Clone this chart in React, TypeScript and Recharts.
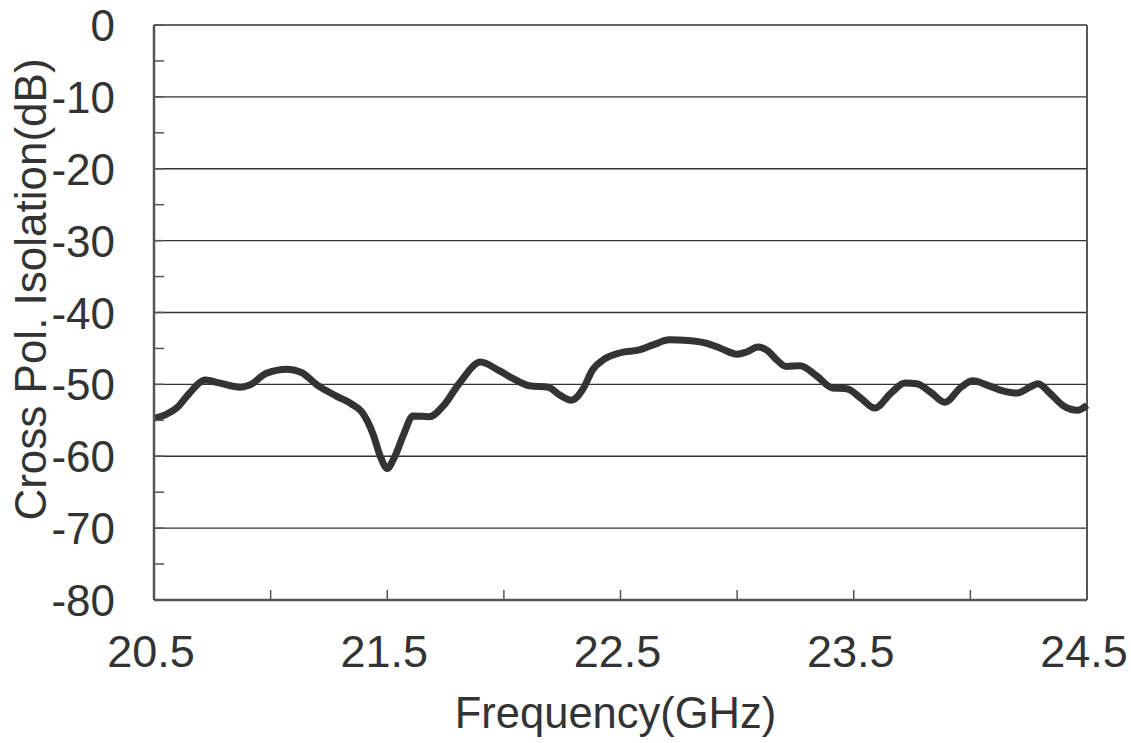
import { LineChart, Line, XAxis, YAxis, CartesianGrid, ReferenceLine, Label } from "recharts";

const frequencies = [
  20.5, 20.55, 20.6, 20.65, 20.72, 20.78, 20.87, 20.91, 20.98, 21.07, 21.13, 21.2, 21.28, 21.35, 21.39,
  21.44, 21.47, 21.5, 21.53, 21.57, 21.61, 21.68, 21.74, 21.81, 21.9, 21.98, 22.04, 22.11, 22.19, 22.24,
  22.29, 22.34, 22.38, 22.43, 22.5, 22.58, 22.64, 22.71, 22.79, 22.87, 22.93, 23.0, 23.04, 23.09, 23.13,
  23.17, 23.21, 23.27, 23.34, 23.41, 23.47, 23.53, 23.59, 23.66, 23.72, 23.77, 23.83, 23.89, 23.96, 24.01,
  24.08, 24.14, 24.2, 24.26, 24.29, 24.34, 24.4, 24.46, 24.5,
];

const isolation = [
  -54.7, -54.2, -53.2, -51.3, -49.4, -49.8, -50.4, -50.1, -48.5, -47.9, -48.3, -50.1, -51.6, -52.8, -53.8,
  -57.0, -60.0, -61.7, -60.2, -57.0, -54.4, -54.5, -53.0, -49.8, -46.9, -48.1, -49.2, -50.2, -50.4, -51.5,
  -52.2, -50.6, -48.0, -46.5, -45.6, -45.2, -44.5, -43.8, -43.9, -44.3, -45.0, -45.8, -45.5, -44.8, -45.3,
  -46.6, -47.5, -47.4, -48.8, -50.5, -50.6, -51.9, -53.3, -51.2, -49.8, -49.9, -51.1, -52.5, -50.4, -49.5,
  -50.2, -50.9, -51.2, -50.3, -49.9, -51.2, -53.0, -53.6, -52.9,
];

const xTicks = [20.5, 21, 21.5, 22, 22.5, 23, 23.5, 24, 24.5];
const xLabelTicks = [20.5, 21.5, 22.5, 23.5, 24.5];
const yTicks = [-80, -75, -70, -65, -60, -55, -50, -45, -40, -35, -30, -25, -20, -15, -10, -5, 0];
const yLabelTicks = [-80, -70, -60, -50, -40, -30, -20, -10, 0];

const data = frequencies.map((f, i) => ({ f, v: isolation[i] }));

const FONT = "'Liberation Sans', Arial, sans-serif";

const XTick = (props: any) => {
  const { x, y, payload } = props;
  const v = payload.value;
  return (
    <g>
      <line x1={x} x2={x} y1={y} y2={y - 10} stroke="#555" strokeWidth={1.5} />
      {xLabelTicks.includes(v) && (
        <text x={x - 3} y={y + 67} textAnchor="middle" fontFamily={FONT} fontSize={45} fill="#333">
          {v.toFixed(1)}
        </text>
      )}
    </g>
  );
};

const YTick = (props: any) => {
  const { x, y, payload } = props;
  const v = payload.value;
  return (
    <g>
      <line x1={x} x2={x + 10} y1={y} y2={y} stroke="#555" strokeWidth={1.5} />
      {yLabelTicks.includes(v) && (
        <text x={x - 39} y={y + 16} textAnchor="end" fontFamily={FONT} fontSize={44} fill="#333">
          {v}
        </text>
      )}
    </g>
  );
};

export default function App() {
  return (
    <div style={{ width: 1131, height: 743, background: "#fff" }}>
      <style>{"body{margin:0}"}</style>
      <LineChart width={1131} height={743} data={data} margin={{ top: 25, right: 44, left: 0, bottom: 0 }}>
        <CartesianGrid vertical={false} horizontalValues={yLabelTicks} stroke="#333" strokeWidth={1.3} />
        <XAxis
          type="number"
          dataKey="f"
          domain={[20.5, 24.5]}
          ticks={xTicks}
          interval={0}
          height={143}
          tickSize={0}
          tickMargin={0}
          tick={<XTick />}
          axisLine={{ stroke: "#555", strokeWidth: 2.5 }}
          tickLine={false}
        >
          <Label
            content={(p: any) => {
              const vb = p.viewBox;
              return (
                <text x={vb.x + vb.width / 2 - 5} y={vb.y + 128} textAnchor="middle" fontFamily={FONT} fontSize={43.5} fill="#333">
                  Frequency(GHz)
                </text>
              );
            }}
          />
        </XAxis>
        <YAxis
          type="number"
          domain={[-80, 0]}
          ticks={yTicks}
          interval={0}
          width={154}
          tickSize={0}
          tickMargin={0}
          tick={<YTick />}
          axisLine={{ stroke: "#555", strokeWidth: 2.5 }}
          tickLine={false}
        >
          <Label
            content={(p: any) => {
              const vb = p.viewBox;
              const cx = vb.x + 30;
              const cy = vb.y + vb.height / 2 - 23;
              return (
                <text
                  x={cx}
                  y={cy}
                  transform={`rotate(-90 ${cx} ${cy})`}
                  textAnchor="middle"
                  dominantBaseline="central"
                  fontFamily={FONT}
                  fontSize={44}
                  fill="#333"
                >
                  Cross Pol. Isolation(dB)
                </text>
              );
            }}
          />
        </YAxis>
        <ReferenceLine x={24.5} stroke="#555" strokeWidth={2} />
        <Line type="monotone" dataKey="v" stroke="#333" strokeWidth={7} dot={false} isAnimationActive={false} />
      </LineChart>
    </div>
  );
}
